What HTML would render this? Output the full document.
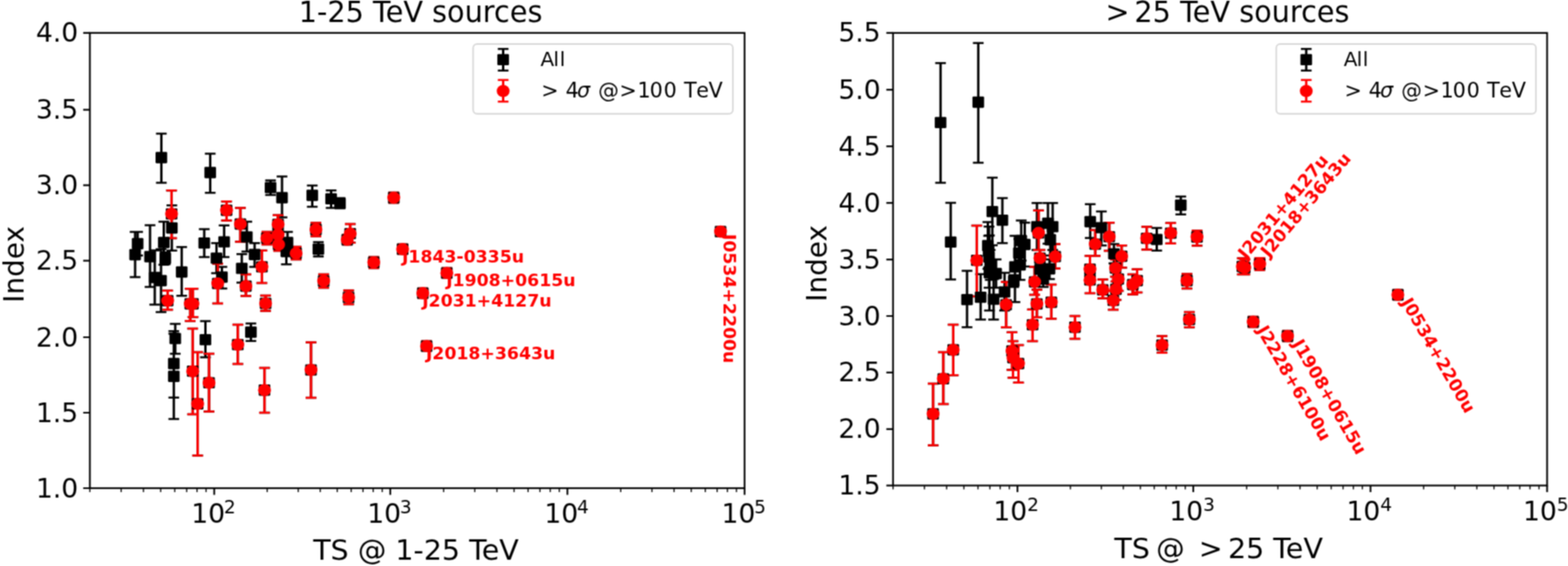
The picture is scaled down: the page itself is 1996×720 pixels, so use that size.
<!DOCTYPE html><html><head><meta charset="utf-8"><style>html,body{margin:0;padding:0;background:#fff;}svg{display:block;}</style></head><body><svg width="1996" height="720" viewBox="0 0 1996 720" font-family="'DejaVu Sans', sans-serif">
<rect width="100%" height="100%" fill="#fff"/>
<defs><filter id="b" x="0" y="0" width="1996" height="720" filterUnits="userSpaceOnUse" color-interpolation-filters="sRGB"><feConvolveMatrix order="3" kernelMatrix="1 2 1 2 4 2 1 2 1" divisor="16" edgeMode="duplicate" preserveAlpha="true"/></filter></defs><g filter="url(#b)"><rect width="1996" height="720" fill="#fff"/>
<path d="M105.9 41.85H114.4M105.9 139.7H114.4M105.9 235.6H114.4M105.9 331.6H114.4M105.9 429H114.4M105.9 525H114.4M105.9 621H114.4M272.7 621V629.5M496.8 621V629.5M722.3 621V629.5M947.8 621V629.5" stroke="#000" stroke-width="2.2" fill="none"/>
<path d="M114.4 621V626M154.28 621V626M182.58 621V626M204.52 621V626M222.46 621V626M237.62 621V626M250.75 621V626M262.34 621V626M340.16 621V626M379.62 621V626M407.62 621V626M429.34 621V626M447.08 621V626M462.09 621V626M475.08 621V626M486.55 621V626M564.68 621V626M604.39 621V626M632.56 621V626M654.42 621V626M672.27 621V626M687.37 621V626M700.45 621V626M711.98 621V626M790.18 621V626M829.89 621V626M858.06 621V626M879.92 621V626M897.77 621V626M912.87 621V626M925.95 621V626M937.48 621V626" stroke="#000" stroke-width="1.5" fill="none"/>
<text x="99.6" y="53.35" text-anchor="end" font-size="33.8">4.0</text>
<text x="99.6" y="151.2" text-anchor="end" font-size="33.8">3.5</text>
<text x="99.6" y="247.1" text-anchor="end" font-size="33.8">3.0</text>
<text x="99.6" y="343.1" text-anchor="end" font-size="33.8">2.5</text>
<text x="99.6" y="440.5" text-anchor="end" font-size="33.8">2.0</text>
<text x="99.6" y="536.5" text-anchor="end" font-size="33.8">1.5</text>
<text x="99.6" y="632.5" text-anchor="end" font-size="33.8">1.0</text>
<text x="243.5" y="665" font-size="33.8">10<tspan font-size="23.6" dx="-1.6" dy="-12.5">2</tspan></text>
<text x="467.6" y="665" font-size="33.8">10<tspan font-size="23.6" dx="-1.6" dy="-12.5">3</tspan></text>
<text x="693.1" y="665" font-size="33.8">10<tspan font-size="23.6" dx="-1.6" dy="-12.5">4</tspan></text>
<text x="918.6" y="665" font-size="33.8">10<tspan font-size="23.6" dx="-1.6" dy="-12.5">5</tspan></text>
<text x="535.35" y="28.3" text-anchor="middle" font-size="36.55">1-25 TeV sources</text>
<text x="529.5" y="711.9" text-anchor="middle" font-size="36.3">TS @ 1-25 TeV</text>
<text transform="translate(30.1 385.3) rotate(-90)" font-size="35.5">Index</text>
<path d="M205.4 170V232.5M267.6 195.6V245.3M344.4 229.4V247.9M359 224.4V276.6M397.5 235.9V262.9M421.5 242.25V264.6M432.8 252V265M501.25 245V258M288.4 256.3V280.5M175.2 295V325M172 295V352.5M191 286.5V365M208.5 281.9V336.7M210.4 321V336M197 318.5V387.5M205 317V396.9M260 291.5V326.9M231.3 314.2V376.25M218.4 242.25V302.9M218.75 261.25V318.75M306 264.4V307.6M314.2 281.9V320.1M324.1 309.2V339.4M285.3 286.8V326.9M275.6 309.2V347.6M307.8 323.2V359.5M282.5 339.6V366.9M366 295V322M364.5 305V336.25M354 273.75V297M339.7 295V311M354 290V307M354.7 303V319M376.9 314V330M333.4 318.75V360M405.3 308.1V326.25M402.2 283.4V300.6M445.8 285V308.75M442 299V311M475.8 327V341M512.5 311V323M568.75 341V353M538.2 367V379M543 434V446M412 349V366M443.75 369.5V387M917.2 289V300M213.4 369.75V394M242.2 367.3V408.2M245.6 367.3V403.3M277.2 335.5V386M313 349V376.5M338.1 376V395.6M223.1 411.9V450M221.25 421.25V505.75M221.25 424.4V533M245.3 418.1V526.9M251.6 448.1V579.6M266.1 450V523.5M261.5 408.5V454.4M302.7 413.1V463.1M319.4 411.6V433.75M336.7 467.9V525M395.9 435.6V506" stroke="#000" stroke-width="3.0" fill="none"/>
<path d="M198.6 170h13.6M198.6 232.5h13.6M260.8 195.6h13.6M260.8 245.3h13.6M337.6 229.4h13.6M337.6 247.9h13.6M352.2 224.4h13.6M352.2 276.6h13.6M390.7 235.9h13.6M390.7 262.9h13.6M414.7 242.25h13.6M414.7 264.6h13.6M426 252h13.6M426 265h13.6M494.45 245h13.6M494.45 258h13.6M281.6 256.3h13.6M281.6 280.5h13.6M168.4 295h13.6M168.4 325h13.6M165.2 295h13.6M165.2 352.5h13.6M184.2 286.5h13.6M184.2 365h13.6M201.7 281.9h13.6M201.7 336.7h13.6M203.6 321h13.6M203.6 336h13.6M190.2 318.5h13.6M190.2 387.5h13.6M198.2 317h13.6M198.2 396.9h13.6M253.2 291.5h13.6M253.2 326.9h13.6M224.5 314.2h13.6M224.5 376.25h13.6M211.6 242.25h13.6M211.6 302.9h13.6M211.95 261.25h13.6M211.95 318.75h13.6M299.2 264.4h13.6M299.2 307.6h13.6M307.4 281.9h13.6M307.4 320.1h13.6M317.3 309.2h13.6M317.3 339.4h13.6M278.5 286.8h13.6M278.5 326.9h13.6M268.8 309.2h13.6M268.8 347.6h13.6M301 323.2h13.6M301 359.5h13.6M275.7 339.6h13.6M275.7 366.9h13.6M359.2 295h13.6M359.2 322h13.6M357.7 305h13.6M357.7 336.25h13.6M347.2 273.75h13.6M347.2 297h13.6M332.9 295h13.6M332.9 311h13.6M347.2 290h13.6M347.2 307h13.6M347.9 303h13.6M347.9 319h13.6M370.1 314h13.6M370.1 330h13.6M326.6 318.75h13.6M326.6 360h13.6M398.5 308.1h13.6M398.5 326.25h13.6M395.4 283.4h13.6M395.4 300.6h13.6M439 285h13.6M439 308.75h13.6M435.2 299h13.6M435.2 311h13.6M469 327h13.6M469 341h13.6M505.7 311h13.6M505.7 323h13.6M561.95 341h13.6M561.95 353h13.6M531.4 367h13.6M531.4 379h13.6M536.2 434h13.6M536.2 446h13.6M405.2 349h13.6M405.2 366h13.6M436.95 369.5h13.6M436.95 387h13.6M910.4 289h13.6M910.4 300h13.6M206.6 369.75h13.6M206.6 394h13.6M235.4 367.3h13.6M235.4 408.2h13.6M238.8 367.3h13.6M238.8 403.3h13.6M270.4 335.5h13.6M270.4 386h13.6M306.2 349h13.6M306.2 376.5h13.6M331.3 376h13.6M331.3 395.6h13.6M216.3 411.9h13.6M216.3 450h13.6M214.45 421.25h13.6M214.45 505.75h13.6M214.45 424.4h13.6M214.45 533h13.6M238.5 418.1h13.6M238.5 526.9h13.6M244.8 448.1h13.6M244.8 579.6h13.6M259.3 450h13.6M259.3 523.5h13.6M254.7 408.5h13.6M254.7 454.4h13.6M295.9 413.1h13.6M295.9 463.1h13.6M312.6 411.6h13.6M312.6 433.75h13.6M329.9 467.9h13.6M329.9 525h13.6M389.1 435.6h13.6M389.1 506h13.6" stroke="#000" stroke-width="2.5" fill="none"/>
<path d="M501.25 245V258M288.4 256.3V280.5M218.4 242.25V302.9M306 264.4V307.6M354 273.75V297M339.7 295V311M354 290V307M354.7 303V319M376.9 314V330M333.4 318.75V360M402.2 283.4V300.6M445.8 285V308.75M442 299V311M475.8 327V341M512.5 311V323M568.75 341V353M538.2 367V379M543 434V446M412 349V366M443.75 369.5V387M917.2 289V300M213.4 369.75V394M242.2 367.3V408.2M245.6 367.3V403.3M277.2 335.5V386M313 349V376.5M338.1 376V395.6M245.3 418.1V526.9M251.6 448.1V579.6M266.1 450V523.5M302.7 413.1V463.1M336.7 467.9V525M395.9 435.6V506" stroke="#ff0000" stroke-width="3.0" fill="none"/>
<path d="M494.45 245h13.6M494.45 258h13.6M281.6 256.3h13.6M281.6 280.5h13.6M211.6 242.25h13.6M211.6 302.9h13.6M299.2 264.4h13.6M299.2 307.6h13.6M347.2 273.75h13.6M347.2 297h13.6M332.9 295h13.6M332.9 311h13.6M347.2 290h13.6M347.2 307h13.6M347.9 303h13.6M347.9 319h13.6M370.1 314h13.6M370.1 330h13.6M326.6 318.75h13.6M326.6 360h13.6M395.4 283.4h13.6M395.4 300.6h13.6M439 285h13.6M439 308.75h13.6M435.2 299h13.6M435.2 311h13.6M469 327h13.6M469 341h13.6M505.7 311h13.6M505.7 323h13.6M561.95 341h13.6M561.95 353h13.6M531.4 367h13.6M531.4 379h13.6M536.2 434h13.6M536.2 446h13.6M405.2 349h13.6M405.2 366h13.6M436.95 369.5h13.6M436.95 387h13.6M910.4 289h13.6M910.4 300h13.6M206.6 369.75h13.6M206.6 394h13.6M235.4 367.3h13.6M235.4 408.2h13.6M238.8 367.3h13.6M238.8 403.3h13.6M270.4 335.5h13.6M270.4 386h13.6M306.2 349h13.6M306.2 376.5h13.6M331.3 376h13.6M331.3 395.6h13.6M238.5 418.1h13.6M238.5 526.9h13.6M244.8 448.1h13.6M244.8 579.6h13.6M259.3 450h13.6M259.3 523.5h13.6M295.9 413.1h13.6M295.9 463.1h13.6M329.9 467.9h13.6M329.9 525h13.6M389.1 435.6h13.6M389.1 506h13.6" stroke="#ff0000" stroke-width="2.5" fill="none"/>
<g fill="#000"><rect x="198" y="193.35" width="14.8" height="14.3" rx="1.3"/><rect x="260.2" y="212.35" width="14.8" height="14.3" rx="1.3"/><rect x="337" y="231.55" width="14.8" height="14.3" rx="1.3"/><rect x="351.6" y="244.35" width="14.8" height="14.3" rx="1.3"/><rect x="390.1" y="241.35" width="14.8" height="14.3" rx="1.3"/><rect x="414.1" y="245.65" width="14.8" height="14.3" rx="1.3"/><rect x="425.4" y="251.45" width="14.8" height="14.3" rx="1.3"/><rect x="493.85" y="244.35" width="14.8" height="14.3" rx="1.3"/><rect x="281" y="260.35" width="14.8" height="14.3" rx="1.3"/><rect x="167.8" y="302.85" width="14.8" height="14.3" rx="1.3"/><rect x="164.6" y="316.85" width="14.8" height="14.3" rx="1.3"/><rect x="183.6" y="319.35" width="14.8" height="14.3" rx="1.3"/><rect x="201.1" y="301.35" width="14.8" height="14.3" rx="1.3"/><rect x="203" y="321.35" width="14.8" height="14.3" rx="1.3"/><rect x="189.6" y="345.85" width="14.8" height="14.3" rx="1.3"/><rect x="197.6" y="349.85" width="14.8" height="14.3" rx="1.3"/><rect x="252.6" y="302.05" width="14.8" height="14.3" rx="1.3"/><rect x="223.9" y="338.85" width="14.8" height="14.3" rx="1.3"/><rect x="211" y="264.95" width="14.8" height="14.3" rx="1.3"/><rect x="211.35" y="282.85" width="14.8" height="14.3" rx="1.3"/><rect x="298.6" y="277.85" width="14.8" height="14.3" rx="1.3"/><rect x="306.8" y="294.15" width="14.8" height="14.3" rx="1.3"/><rect x="316.7" y="316.6" width="14.8" height="14.3" rx="1.3"/><rect x="277.9" y="300.45" width="14.8" height="14.3" rx="1.3"/><rect x="268.2" y="321.25" width="14.8" height="14.3" rx="1.3"/><rect x="300.4" y="334.25" width="14.8" height="14.3" rx="1.3"/><rect x="275.1" y="345.35" width="14.8" height="14.3" rx="1.3"/><rect x="358.6" y="301.35" width="14.8" height="14.3" rx="1.3"/><rect x="357.1" y="312.85" width="14.8" height="14.3" rx="1.3"/><rect x="346.6" y="278.15" width="14.8" height="14.3" rx="1.3"/><rect x="332.3" y="295.85" width="14.8" height="14.3" rx="1.3"/><rect x="346.6" y="291.35" width="14.8" height="14.3" rx="1.3"/><rect x="347.3" y="303.85" width="14.8" height="14.3" rx="1.3"/><rect x="369.5" y="315.05" width="14.8" height="14.3" rx="1.3"/><rect x="326" y="332.25" width="14.8" height="14.3" rx="1.3"/><rect x="397.9" y="309.85" width="14.8" height="14.3" rx="1.3"/><rect x="394.8" y="284.75" width="14.8" height="14.3" rx="1.3"/><rect x="438.4" y="290.05" width="14.8" height="14.3" rx="1.3"/><rect x="434.6" y="297.85" width="14.8" height="14.3" rx="1.3"/><rect x="468.4" y="326.6" width="14.8" height="14.3" rx="1.3"/><rect x="505.1" y="309.75" width="14.8" height="14.3" rx="1.3"/><rect x="561.35" y="340.15" width="14.8" height="14.3" rx="1.3"/><rect x="530.8" y="365.75" width="14.8" height="14.3" rx="1.3"/><rect x="535.6" y="433.15" width="14.8" height="14.3" rx="1.3"/><rect x="404.6" y="350.35" width="14.8" height="14.3" rx="1.3"/><rect x="436.35" y="371.15" width="14.8" height="14.3" rx="1.3"/><rect x="909.8" y="287.45" width="14.8" height="14.3" rx="1.3"/><rect x="206" y="375.35" width="14.8" height="14.3" rx="1.3"/><rect x="234.8" y="379.35" width="14.8" height="14.3" rx="1.3"/><rect x="238.2" y="379.35" width="14.8" height="14.3" rx="1.3"/><rect x="269.8" y="353.45" width="14.8" height="14.3" rx="1.3"/><rect x="305.6" y="356.85" width="14.8" height="14.3" rx="1.3"/><rect x="330.7" y="378.85" width="14.8" height="14.3" rx="1.3"/><rect x="215.7" y="423.45" width="14.8" height="14.3" rx="1.3"/><rect x="213.85" y="455.35" width="14.8" height="14.3" rx="1.3"/><rect x="213.85" y="471.6" width="14.8" height="14.3" rx="1.3"/><rect x="237.9" y="465.05" width="14.8" height="14.3" rx="1.3"/><rect x="244.2" y="506.6" width="14.8" height="14.3" rx="1.3"/><rect x="258.7" y="479.75" width="14.8" height="14.3" rx="1.3"/><rect x="254.1" y="425.05" width="14.8" height="14.3" rx="1.3"/><rect x="295.3" y="431.25" width="14.8" height="14.3" rx="1.3"/><rect x="312" y="415.35" width="14.8" height="14.3" rx="1.3"/><rect x="329.3" y="489.1" width="14.8" height="14.3" rx="1.3"/><rect x="388.5" y="463.45" width="14.8" height="14.3" rx="1.3"/></g>
<ellipse cx="501.25" cy="251.5" rx="8.2" ry="7.8" fill="#ff0000"/>
<ellipse cx="288.4" cy="267.5" rx="8.2" ry="7.8" fill="#ff0000"/>
<ellipse cx="218.4" cy="272.1" rx="8.2" ry="7.8" fill="#ff0000"/>
<ellipse cx="306" cy="285" rx="8.2" ry="7.8" fill="#ff0000"/>
<ellipse cx="354" cy="285.3" rx="8.2" ry="7.8" fill="#ff0000"/>
<ellipse cx="339.7" cy="303" rx="8.2" ry="7.8" fill="#ff0000"/>
<ellipse cx="354" cy="298.5" rx="8.2" ry="7.8" fill="#ff0000"/>
<ellipse cx="354.7" cy="311" rx="8.2" ry="7.8" fill="#ff0000"/>
<ellipse cx="376.9" cy="322.2" rx="8.2" ry="7.8" fill="#ff0000"/>
<ellipse cx="333.4" cy="339.4" rx="8.2" ry="7.8" fill="#ff0000"/>
<ellipse cx="402.2" cy="291.9" rx="8.2" ry="7.8" fill="#ff0000"/>
<ellipse cx="445.8" cy="297.2" rx="8.2" ry="7.8" fill="#ff0000"/>
<ellipse cx="442" cy="305" rx="8.2" ry="7.8" fill="#ff0000"/>
<ellipse cx="475.8" cy="333.75" rx="8.2" ry="7.8" fill="#ff0000"/>
<ellipse cx="512.5" cy="316.9" rx="8.2" ry="7.8" fill="#ff0000"/>
<ellipse cx="568.75" cy="347.3" rx="8.2" ry="7.8" fill="#ff0000"/>
<ellipse cx="538.2" cy="372.9" rx="8.2" ry="7.8" fill="#ff0000"/>
<ellipse cx="543" cy="440.3" rx="8.2" ry="7.8" fill="#ff0000"/>
<ellipse cx="412" cy="357.5" rx="8.2" ry="7.8" fill="#ff0000"/>
<ellipse cx="443.75" cy="378.3" rx="8.2" ry="7.8" fill="#ff0000"/>
<ellipse cx="917.2" cy="294.6" rx="8.2" ry="7.8" fill="#ff0000"/>
<ellipse cx="213.4" cy="382.5" rx="8.2" ry="7.8" fill="#ff0000"/>
<ellipse cx="242.2" cy="386.5" rx="8.2" ry="7.8" fill="#ff0000"/>
<ellipse cx="245.6" cy="386.5" rx="8.2" ry="7.8" fill="#ff0000"/>
<ellipse cx="277.2" cy="360.6" rx="8.2" ry="7.8" fill="#ff0000"/>
<ellipse cx="313" cy="364" rx="8.2" ry="7.8" fill="#ff0000"/>
<ellipse cx="338.1" cy="386" rx="8.2" ry="7.8" fill="#ff0000"/>
<ellipse cx="245.3" cy="472.2" rx="8.2" ry="7.8" fill="#ff0000"/>
<ellipse cx="251.6" cy="513.75" rx="8.2" ry="7.8" fill="#ff0000"/>
<ellipse cx="266.1" cy="486.9" rx="8.2" ry="7.8" fill="#ff0000"/>
<ellipse cx="302.7" cy="438.4" rx="8.2" ry="7.8" fill="#ff0000"/>
<ellipse cx="336.7" cy="496.25" rx="8.2" ry="7.8" fill="#ff0000"/>
<ellipse cx="395.9" cy="470.6" rx="8.2" ry="7.8" fill="#ff0000"/>
<text x="511.7" y="333.9" font-size="22" font-weight="bold" fill="#ff0000">J1843-0335u</text>
<text x="567.95" y="364.3" font-size="22" font-weight="bold" fill="#ff0000">J1908+0615u</text>
<text x="537.4" y="389.9" font-size="22" font-weight="bold" fill="#ff0000">J2031+4127u</text>
<text x="542.2" y="457.3" font-size="22" font-weight="bold" fill="#ff0000">J2018+3643u</text>
<text transform="translate(920.7 297.5) rotate(90)" font-size="22" font-weight="bold" fill="#ff0000">J0534+2200u</text>
<rect x="114.4" y="41.85" width="833.4" height="579.15" fill="none" stroke="#000" stroke-width="2.2"/>
<rect x="602.3" y="56" width="330.6" height="88.7" rx="5" ry="5" fill="#fff" fill-opacity="0.8" stroke="#d6d6d6" stroke-width="1.9"/>
<path d="M640.5 62.2V89.8" stroke="#000" stroke-width="3.0"/>
<path d="M633.7 62.2h13.6M633.7 89.8h13.6" stroke="#000" stroke-width="2.5"/>
<rect x="633.1" y="68.75" width="14.8" height="14.3" rx="1.3" fill="#000"/>
<path d="M640.5 101.8V129.2" stroke="#ff0000" stroke-width="3.0"/>
<path d="M633.7 101.8h13.6M633.7 129.2h13.6" stroke="#ff0000" stroke-width="2.5"/>
<ellipse cx="640.5" cy="115.7" rx="8.2" ry="7.8" fill="#ff0000"/>
<text x="688.1 704.6 712.4" y="84.0" font-size="25.5">All</text>
<text y="124.4" font-size="26.3"><tspan x="689.1 710.5 719.95">&gt; 4</tspan><tspan x="734.4" font-style="italic">σ</tspan><tspan x="752 761.5 788.6 811.4 827 844.7 862.5 870.8 886.2 902.1"> @&gt;100 TeV</tspan></text>
<path d="M1128.3 41.9H1136.8M1128.3 114.2H1136.8M1128.3 186.2H1136.8M1128.3 258.2H1136.8M1128.3 330.1H1136.8M1128.3 402H1136.8M1128.3 473.9H1136.8M1128.3 545.8H1136.8M1128.3 617.6H1136.8M1295.2 617.6V626.1M1519 617.6V626.1M1744.6 617.6V626.1M1969.4 617.6V626.1" stroke="#000" stroke-width="2.2" fill="none"/>
<path d="M1136.8 617.6V622.6M1176.71 617.6V622.6M1205.02 617.6V622.6M1226.98 617.6V622.6M1244.92 617.6V622.6M1260.1 617.6V622.6M1273.24 617.6V622.6M1284.83 617.6V622.6M1362.57 617.6V622.6M1401.98 617.6V622.6M1429.94 617.6V622.6M1451.63 617.6V622.6M1469.35 617.6V622.6M1484.33 617.6V622.6M1497.31 617.6V622.6M1508.76 617.6V622.6M1586.91 617.6V622.6M1626.64 617.6V622.6M1654.82 617.6V622.6M1676.69 617.6V622.6M1694.55 617.6V622.6M1709.65 617.6V622.6M1722.74 617.6V622.6M1734.28 617.6V622.6M1812.27 617.6V622.6M1851.86 617.6V622.6M1879.94 617.6V622.6M1901.73 617.6V622.6M1919.53 617.6V622.6M1934.58 617.6V622.6M1947.61 617.6V622.6M1959.11 617.6V622.6" stroke="#000" stroke-width="1.5" fill="none"/>
<text x="1121" y="53.4" text-anchor="end" font-size="33.8">5.5</text>
<text x="1121" y="125.7" text-anchor="end" font-size="33.8">5.0</text>
<text x="1121" y="197.7" text-anchor="end" font-size="33.8">4.5</text>
<text x="1121" y="269.7" text-anchor="end" font-size="33.8">4.0</text>
<text x="1121" y="341.6" text-anchor="end" font-size="33.8">3.5</text>
<text x="1121" y="413.5" text-anchor="end" font-size="33.8">3.0</text>
<text x="1121" y="485.4" text-anchor="end" font-size="33.8">2.5</text>
<text x="1121" y="557.3" text-anchor="end" font-size="33.8">2.0</text>
<text x="1121" y="629.1" text-anchor="end" font-size="33.8">1.5</text>
<text x="1264.6" y="662.2" font-size="33.8">10<tspan font-size="23.6" dx="0" dy="-12.5">2</tspan></text>
<text x="1488.4" y="662.2" font-size="33.8">10<tspan font-size="23.6" dx="0" dy="-12.5">3</tspan></text>
<text x="1714" y="662.2" font-size="33.8">10<tspan font-size="23.6" dx="0" dy="-12.5">4</tspan></text>
<text x="1938.8" y="662.2" font-size="33.8">10<tspan font-size="23.6" dx="0" dy="-12.5">5</tspan></text>
<text y="28.2" font-size="36.55"><tspan x="1407.3">&gt;</tspan><tspan x="1444.1">25 TeV sources</tspan></text>
<text y="709.8" font-size="36.3"><tspan x="1418.6">TS</tspan><tspan x="1471.7">@</tspan><tspan x="1525.95">&gt;</tspan><tspan x="1563.15">25 TeV</tspan></text>
<text transform="translate(1051.8 383.9) rotate(-90)" font-size="35.5">Index</text>
<path d="M1197.3 80.25V232.5M1245.3 54.75V206.9M1210.2 258V355.4M1263.2 226V312M1276 251.9V309.2M1257.5 282.5V342M1258.5 300V340M1260.5 318V356M1259 288.3V366M1259.5 299.4V395M1268 330V366M1300 280.4V331.5M1304.5 283.2V339M1297 304V340M1292 300V384.2M1298.5 318V356M1290.5 350V365.1M1320 258.3V318M1334 258.3V310M1340 258.3V318M1337 285V325M1324 325V360M1336 330V355M1328 345V365M1278.8 347V395M1264.8 355V406.5M1248.3 348.75V406.5M1231 344.4V416.25M1387.8 259.8V302.8M1402 269.1V312.2M1418 310.6V335M1472.5 290V318.75M1503.1 249.9V272.8M1243.4 287V376.9M1322 267.7V318M1323.8 318V338.5M1343.2 310.5V341.5M1317.1 339.4V375M1319.9 368.5V403.7M1338.3 362V405.5M1314.4 393.75V434M1368.4 401.9V431M1288.3 422.8V470.6M1289.5 433.9V480.6M1296.5 438.9V486.7M1280.8 358.8V416.2M1213.4 412.9V477.25M1200.8 448.1V514M1187.8 488V566.5M1412 283.3V318.9M1394.2 292.8V325.6M1427.8 312.2V340.6M1387.5 325.6V358M1387.5 340V373.1M1403.75 355.6V379.4M1420 330V352M1423.5 340.6V370M1420.6 358V381.5M1417.2 370V394M1447.5 342.5V371.9M1442 349V374.4M1459.7 288.5V317.5M1490.3 283.75V309.75M1523.75 293.5V312.5M1510.9 348.5V366.9M1514 397V416.25M1479.3 427.4V448.8M1581.5 328.4V349M1584.5 330V349M1603.6 328.2V343.4M1595.3 403V416M1639 421V434M1779.4 369V381" stroke="#000" stroke-width="3.0" fill="none"/>
<path d="M1190.5 80.25h13.6M1190.5 232.5h13.6M1238.5 54.75h13.6M1238.5 206.9h13.6M1203.4 258h13.6M1203.4 355.4h13.6M1256.4 226h13.6M1256.4 312h13.6M1269.2 251.9h13.6M1269.2 309.2h13.6M1250.7 282.5h13.6M1250.7 342h13.6M1251.7 300h13.6M1251.7 340h13.6M1253.7 318h13.6M1253.7 356h13.6M1252.2 288.3h13.6M1252.2 366h13.6M1252.7 299.4h13.6M1252.7 395h13.6M1261.2 330h13.6M1261.2 366h13.6M1293.2 280.4h13.6M1293.2 331.5h13.6M1297.7 283.2h13.6M1297.7 339h13.6M1290.2 304h13.6M1290.2 340h13.6M1285.2 300h13.6M1285.2 384.2h13.6M1291.7 318h13.6M1291.7 356h13.6M1283.7 350h13.6M1283.7 365.1h13.6M1313.2 258.3h13.6M1313.2 318h13.6M1327.2 258.3h13.6M1327.2 310h13.6M1333.2 258.3h13.6M1333.2 318h13.6M1330.2 285h13.6M1330.2 325h13.6M1317.2 325h13.6M1317.2 360h13.6M1329.2 330h13.6M1329.2 355h13.6M1321.2 345h13.6M1321.2 365h13.6M1272 347h13.6M1272 395h13.6M1258 355h13.6M1258 406.5h13.6M1241.5 348.75h13.6M1241.5 406.5h13.6M1224.2 344.4h13.6M1224.2 416.25h13.6M1381 259.8h13.6M1381 302.8h13.6M1395.2 269.1h13.6M1395.2 312.2h13.6M1411.2 310.6h13.6M1411.2 335h13.6M1465.7 290h13.6M1465.7 318.75h13.6M1496.3 249.9h13.6M1496.3 272.8h13.6M1236.6 287h13.6M1236.6 376.9h13.6M1315.2 267.7h13.6M1315.2 318h13.6M1317 318h13.6M1317 338.5h13.6M1336.4 310.5h13.6M1336.4 341.5h13.6M1310.3 339.4h13.6M1310.3 375h13.6M1313.1 368.5h13.6M1313.1 403.7h13.6M1331.5 362h13.6M1331.5 405.5h13.6M1307.6 393.75h13.6M1307.6 434h13.6M1361.6 401.9h13.6M1361.6 431h13.6M1281.5 422.8h13.6M1281.5 470.6h13.6M1282.7 433.9h13.6M1282.7 480.6h13.6M1289.7 438.9h13.6M1289.7 486.7h13.6M1274 358.8h13.6M1274 416.2h13.6M1206.6 412.9h13.6M1206.6 477.25h13.6M1194 448.1h13.6M1194 514h13.6M1181 488h13.6M1181 566.5h13.6M1405.2 283.3h13.6M1405.2 318.9h13.6M1387.4 292.8h13.6M1387.4 325.6h13.6M1421 312.2h13.6M1421 340.6h13.6M1380.7 325.6h13.6M1380.7 358h13.6M1380.7 340h13.6M1380.7 373.1h13.6M1396.95 355.6h13.6M1396.95 379.4h13.6M1413.2 330h13.6M1413.2 352h13.6M1416.7 340.6h13.6M1416.7 370h13.6M1413.8 358h13.6M1413.8 381.5h13.6M1410.4 370h13.6M1410.4 394h13.6M1440.7 342.5h13.6M1440.7 371.9h13.6M1435.2 349h13.6M1435.2 374.4h13.6M1452.9 288.5h13.6M1452.9 317.5h13.6M1483.5 283.75h13.6M1483.5 309.75h13.6M1516.95 293.5h13.6M1516.95 312.5h13.6M1504.1 348.5h13.6M1504.1 366.9h13.6M1507.2 397h13.6M1507.2 416.25h13.6M1472.5 427.4h13.6M1472.5 448.8h13.6M1574.7 328.4h13.6M1574.7 349h13.6M1577.7 330h13.6M1577.7 349h13.6M1596.8 328.2h13.6M1596.8 343.4h13.6M1588.5 403h13.6M1588.5 416h13.6M1632.2 421h13.6M1632.2 434h13.6M1772.6 369h13.6M1772.6 381h13.6" stroke="#000" stroke-width="2.5" fill="none"/>
<path d="M1243.4 287V376.9M1322 267.7V318M1323.8 318V338.5M1343.2 310.5V341.5M1317.1 339.4V375M1319.9 368.5V403.7M1338.3 362V405.5M1314.4 393.75V434M1368.4 401.9V431M1288.3 422.8V470.6M1289.5 433.9V480.6M1296.5 438.9V486.7M1280.8 358.8V416.2M1213.4 412.9V477.25M1200.8 448.1V514M1187.8 488V566.5M1412 283.3V318.9M1394.2 292.8V325.6M1427.8 312.2V340.6M1387.5 325.6V358M1387.5 340V373.1M1403.75 355.6V379.4M1420 330V352M1423.5 340.6V370M1420.6 358V381.5M1417.2 370V394M1447.5 342.5V371.9M1442 349V374.4M1459.7 288.5V317.5M1490.3 283.75V309.75M1523.75 293.5V312.5M1510.9 348.5V366.9M1514 397V416.25M1479.3 427.4V448.8M1581.5 328.4V349M1584.5 330V349M1603.6 328.2V343.4M1595.3 403V416M1639 421V434M1779.4 369V381" stroke="#ff0000" stroke-width="3.0" fill="none"/>
<path d="M1236.6 287h13.6M1236.6 376.9h13.6M1315.2 267.7h13.6M1315.2 318h13.6M1317 318h13.6M1317 338.5h13.6M1336.4 310.5h13.6M1336.4 341.5h13.6M1310.3 339.4h13.6M1310.3 375h13.6M1313.1 368.5h13.6M1313.1 403.7h13.6M1331.5 362h13.6M1331.5 405.5h13.6M1307.6 393.75h13.6M1307.6 434h13.6M1361.6 401.9h13.6M1361.6 431h13.6M1281.5 422.8h13.6M1281.5 470.6h13.6M1282.7 433.9h13.6M1282.7 480.6h13.6M1289.7 438.9h13.6M1289.7 486.7h13.6M1274 358.8h13.6M1274 416.2h13.6M1206.6 412.9h13.6M1206.6 477.25h13.6M1194 448.1h13.6M1194 514h13.6M1181 488h13.6M1181 566.5h13.6M1405.2 283.3h13.6M1405.2 318.9h13.6M1387.4 292.8h13.6M1387.4 325.6h13.6M1421 312.2h13.6M1421 340.6h13.6M1380.7 325.6h13.6M1380.7 358h13.6M1380.7 340h13.6M1380.7 373.1h13.6M1396.95 355.6h13.6M1396.95 379.4h13.6M1413.2 330h13.6M1413.2 352h13.6M1416.7 340.6h13.6M1416.7 370h13.6M1413.8 358h13.6M1413.8 381.5h13.6M1410.4 370h13.6M1410.4 394h13.6M1440.7 342.5h13.6M1440.7 371.9h13.6M1435.2 349h13.6M1435.2 374.4h13.6M1452.9 288.5h13.6M1452.9 317.5h13.6M1483.5 283.75h13.6M1483.5 309.75h13.6M1516.95 293.5h13.6M1516.95 312.5h13.6M1504.1 348.5h13.6M1504.1 366.9h13.6M1507.2 397h13.6M1507.2 416.25h13.6M1472.5 427.4h13.6M1472.5 448.8h13.6M1574.7 328.4h13.6M1574.7 349h13.6M1577.7 330h13.6M1577.7 349h13.6M1596.8 328.2h13.6M1596.8 343.4h13.6M1588.5 403h13.6M1588.5 416h13.6M1632.2 421h13.6M1632.2 434h13.6M1772.6 369h13.6M1772.6 381h13.6" stroke="#ff0000" stroke-width="2.5" fill="none"/>
<g fill="#000"><rect x="1189.9" y="148.65" width="14.8" height="14.3" rx="1.3"/><rect x="1237.9" y="122.85" width="14.8" height="14.3" rx="1.3"/><rect x="1202.8" y="300.65" width="14.8" height="14.3" rx="1.3"/><rect x="1255.8" y="262.05" width="14.8" height="14.3" rx="1.3"/><rect x="1268.6" y="273.05" width="14.8" height="14.3" rx="1.3"/><rect x="1250.1" y="305.35" width="14.8" height="14.3" rx="1.3"/><rect x="1251.1" y="312.35" width="14.8" height="14.3" rx="1.3"/><rect x="1253.1" y="328.85" width="14.8" height="14.3" rx="1.3"/><rect x="1251.6" y="319.85" width="14.8" height="14.3" rx="1.3"/><rect x="1252.1" y="339.85" width="14.8" height="14.3" rx="1.3"/><rect x="1260.6" y="340.85" width="14.8" height="14.3" rx="1.3"/><rect x="1292.6" y="298.85" width="14.8" height="14.3" rx="1.3"/><rect x="1297.1" y="303.85" width="14.8" height="14.3" rx="1.3"/><rect x="1289.6" y="314.85" width="14.8" height="14.3" rx="1.3"/><rect x="1284.6" y="332.35" width="14.8" height="14.3" rx="1.3"/><rect x="1291.1" y="329.85" width="14.8" height="14.3" rx="1.3"/><rect x="1283.1" y="350.35" width="14.8" height="14.3" rx="1.3"/><rect x="1312.6" y="281.25" width="14.8" height="14.3" rx="1.3"/><rect x="1326.6" y="276.85" width="14.8" height="14.3" rx="1.3"/><rect x="1332.6" y="281.25" width="14.8" height="14.3" rx="1.3"/><rect x="1329.6" y="297.85" width="14.8" height="14.3" rx="1.3"/><rect x="1316.6" y="335.35" width="14.8" height="14.3" rx="1.3"/><rect x="1328.6" y="334.85" width="14.8" height="14.3" rx="1.3"/><rect x="1320.6" y="347.85" width="14.8" height="14.3" rx="1.3"/><rect x="1271.4" y="364.25" width="14.8" height="14.3" rx="1.3"/><rect x="1257.4" y="373.45" width="14.8" height="14.3" rx="1.3"/><rect x="1240.9" y="370.95" width="14.8" height="14.3" rx="1.3"/><rect x="1223.6" y="374.05" width="14.8" height="14.3" rx="1.3"/><rect x="1380.4" y="274.85" width="14.8" height="14.3" rx="1.3"/><rect x="1394.6" y="282.55" width="14.8" height="14.3" rx="1.3"/><rect x="1410.6" y="315.65" width="14.8" height="14.3" rx="1.3"/><rect x="1465.1" y="297.55" width="14.8" height="14.3" rx="1.3"/><rect x="1495.7" y="253.85" width="14.8" height="14.3" rx="1.3"/><rect x="1236" y="324.05" width="14.8" height="14.3" rx="1.3"/><rect x="1314.6" y="289.25" width="14.8" height="14.3" rx="1.3"/><rect x="1316.4" y="321.15" width="14.8" height="14.3" rx="1.3"/><rect x="1335.8" y="319.25" width="14.8" height="14.3" rx="1.3"/><rect x="1309.7" y="351.45" width="14.8" height="14.3" rx="1.3"/><rect x="1312.5" y="379.45" width="14.8" height="14.3" rx="1.3"/><rect x="1330.9" y="377.35" width="14.8" height="14.3" rx="1.3"/><rect x="1307" y="405.95" width="14.8" height="14.3" rx="1.3"/><rect x="1361" y="409.1" width="14.8" height="14.3" rx="1.3"/><rect x="1280.9" y="439.35" width="14.8" height="14.3" rx="1.3"/><rect x="1282.1" y="447.85" width="14.8" height="14.3" rx="1.3"/><rect x="1289.1" y="455.35" width="14.8" height="14.3" rx="1.3"/><rect x="1273.4" y="380.45" width="14.8" height="14.3" rx="1.3"/><rect x="1206" y="437.85" width="14.8" height="14.3" rx="1.3"/><rect x="1193.4" y="474.65" width="14.8" height="14.3" rx="1.3"/><rect x="1180.4" y="519.35" width="14.8" height="14.3" rx="1.3"/><rect x="1404.6" y="293.95" width="14.8" height="14.3" rx="1.3"/><rect x="1386.8" y="303.45" width="14.8" height="14.3" rx="1.3"/><rect x="1420.4" y="318.85" width="14.8" height="14.3" rx="1.3"/><rect x="1380.1" y="335.35" width="14.8" height="14.3" rx="1.3"/><rect x="1380.1" y="349.05" width="14.8" height="14.3" rx="1.3"/><rect x="1396.35" y="361.6" width="14.8" height="14.3" rx="1.3"/><rect x="1412.6" y="333.85" width="14.8" height="14.3" rx="1.3"/><rect x="1416.1" y="347.85" width="14.8" height="14.3" rx="1.3"/><rect x="1413.2" y="360.85" width="14.8" height="14.3" rx="1.3"/><rect x="1409.8" y="375.05" width="14.8" height="14.3" rx="1.3"/><rect x="1440.1" y="349.85" width="14.8" height="14.3" rx="1.3"/><rect x="1434.6" y="354.85" width="14.8" height="14.3" rx="1.3"/><rect x="1452.3" y="295.95" width="14.8" height="14.3" rx="1.3"/><rect x="1482.9" y="289.45" width="14.8" height="14.3" rx="1.3"/><rect x="1516.35" y="294.35" width="14.8" height="14.3" rx="1.3"/><rect x="1503.5" y="349.85" width="14.8" height="14.3" rx="1.3"/><rect x="1506.6" y="399.35" width="14.8" height="14.3" rx="1.3"/><rect x="1471.9" y="431.85" width="14.8" height="14.3" rx="1.3"/><rect x="1574.1" y="331.85" width="14.8" height="14.3" rx="1.3"/><rect x="1577.1" y="333.35" width="14.8" height="14.3" rx="1.3"/><rect x="1596.2" y="328.65" width="14.8" height="14.3" rx="1.3"/><rect x="1587.9" y="402.25" width="14.8" height="14.3" rx="1.3"/><rect x="1631.6" y="420.35" width="14.8" height="14.3" rx="1.3"/><rect x="1772" y="367.85" width="14.8" height="14.3" rx="1.3"/></g>
<ellipse cx="1243.4" cy="331.2" rx="8.2" ry="7.8" fill="#ff0000"/>
<ellipse cx="1322" cy="296.4" rx="8.2" ry="7.8" fill="#ff0000"/>
<ellipse cx="1323.8" cy="328.3" rx="8.2" ry="7.8" fill="#ff0000"/>
<ellipse cx="1343.2" cy="326.4" rx="8.2" ry="7.8" fill="#ff0000"/>
<ellipse cx="1317.1" cy="358.6" rx="8.2" ry="7.8" fill="#ff0000"/>
<ellipse cx="1319.9" cy="386.6" rx="8.2" ry="7.8" fill="#ff0000"/>
<ellipse cx="1338.3" cy="384.5" rx="8.2" ry="7.8" fill="#ff0000"/>
<ellipse cx="1314.4" cy="413.1" rx="8.2" ry="7.8" fill="#ff0000"/>
<ellipse cx="1368.4" cy="416.25" rx="8.2" ry="7.8" fill="#ff0000"/>
<ellipse cx="1288.3" cy="446.5" rx="8.2" ry="7.8" fill="#ff0000"/>
<ellipse cx="1289.5" cy="455" rx="8.2" ry="7.8" fill="#ff0000"/>
<ellipse cx="1296.5" cy="462.5" rx="8.2" ry="7.8" fill="#ff0000"/>
<ellipse cx="1280.8" cy="387.6" rx="8.2" ry="7.8" fill="#ff0000"/>
<ellipse cx="1213.4" cy="445" rx="8.2" ry="7.8" fill="#ff0000"/>
<ellipse cx="1200.8" cy="481.8" rx="8.2" ry="7.8" fill="#ff0000"/>
<ellipse cx="1187.8" cy="526.5" rx="8.2" ry="7.8" fill="#ff0000"/>
<ellipse cx="1412" cy="301.1" rx="8.2" ry="7.8" fill="#ff0000"/>
<ellipse cx="1394.2" cy="310.6" rx="8.2" ry="7.8" fill="#ff0000"/>
<ellipse cx="1427.8" cy="326" rx="8.2" ry="7.8" fill="#ff0000"/>
<ellipse cx="1387.5" cy="342.5" rx="8.2" ry="7.8" fill="#ff0000"/>
<ellipse cx="1387.5" cy="356.2" rx="8.2" ry="7.8" fill="#ff0000"/>
<ellipse cx="1403.75" cy="368.75" rx="8.2" ry="7.8" fill="#ff0000"/>
<ellipse cx="1420" cy="341" rx="8.2" ry="7.8" fill="#ff0000"/>
<ellipse cx="1423.5" cy="355" rx="8.2" ry="7.8" fill="#ff0000"/>
<ellipse cx="1420.6" cy="368" rx="8.2" ry="7.8" fill="#ff0000"/>
<ellipse cx="1417.2" cy="382.2" rx="8.2" ry="7.8" fill="#ff0000"/>
<ellipse cx="1447.5" cy="357" rx="8.2" ry="7.8" fill="#ff0000"/>
<ellipse cx="1442" cy="362" rx="8.2" ry="7.8" fill="#ff0000"/>
<ellipse cx="1459.7" cy="303.1" rx="8.2" ry="7.8" fill="#ff0000"/>
<ellipse cx="1490.3" cy="296.6" rx="8.2" ry="7.8" fill="#ff0000"/>
<ellipse cx="1523.75" cy="301.5" rx="8.2" ry="7.8" fill="#ff0000"/>
<ellipse cx="1510.9" cy="357" rx="8.2" ry="7.8" fill="#ff0000"/>
<ellipse cx="1514" cy="406.5" rx="8.2" ry="7.8" fill="#ff0000"/>
<ellipse cx="1479.3" cy="439" rx="8.2" ry="7.8" fill="#ff0000"/>
<ellipse cx="1581.5" cy="339" rx="8.2" ry="7.8" fill="#ff0000"/>
<ellipse cx="1584.5" cy="340.5" rx="8.2" ry="7.8" fill="#ff0000"/>
<ellipse cx="1603.6" cy="335.8" rx="8.2" ry="7.8" fill="#ff0000"/>
<ellipse cx="1595.3" cy="409.4" rx="8.2" ry="7.8" fill="#ff0000"/>
<ellipse cx="1639" cy="427.5" rx="8.2" ry="7.8" fill="#ff0000"/>
<ellipse cx="1779.4" cy="375" rx="8.2" ry="7.8" fill="#ff0000"/>
<text transform="translate(1586.2 330.8) rotate(-50)" font-size="22" font-weight="bold" fill="#ff0000">J2031+4127u</text>
<text transform="translate(1614.9 328.4) rotate(-50)" font-size="22" font-weight="bold" fill="#ff0000">J2018+3643u</text>
<text transform="translate(1599.5 419.85) rotate(60)" font-size="22" font-weight="bold" fill="#ff0000">J2228+6100u</text>
<text transform="translate(1644.6 437.2) rotate(60)" font-size="22" font-weight="bold" fill="#ff0000">J1908+0615u</text>
<text transform="translate(1783.1 384.5) rotate(60)" font-size="22" font-weight="bold" fill="#ff0000">J0534+2200u</text>
<rect x="1136.8" y="41.9" width="832.6" height="575.7" fill="none" stroke="#000" stroke-width="2.2"/>
<rect x="1624.6" y="56" width="330.6" height="88.7" rx="5" ry="5" fill="#fff" fill-opacity="0.8" stroke="#d6d6d6" stroke-width="1.9"/>
<path d="M1662.8 62.2V89.8" stroke="#000" stroke-width="3.0"/>
<path d="M1656 62.2h13.6M1656 89.8h13.6" stroke="#000" stroke-width="2.5"/>
<rect x="1655.4" y="68.75" width="14.8" height="14.3" rx="1.3" fill="#000"/>
<path d="M1662.8 101.8V129.2" stroke="#ff0000" stroke-width="3.0"/>
<path d="M1656 101.8h13.6M1656 129.2h13.6" stroke="#ff0000" stroke-width="2.5"/>
<ellipse cx="1662.8" cy="115.7" rx="8.2" ry="7.8" fill="#ff0000"/>
<text x="1710.4 1726.9 1734.7" y="84.0" font-size="25.5">All</text>
<text y="124.4" font-size="26.3"><tspan x="1711.4 1732.8 1742.25">&gt; 4</tspan><tspan x="1756.7" font-style="italic">σ</tspan><tspan x="1774.3 1783.8 1810.9 1833.7 1849.3 1867 1884.8 1893.1 1908.5 1924.4"> @&gt;100 TeV</tspan></text>
</g></svg></body></html>
